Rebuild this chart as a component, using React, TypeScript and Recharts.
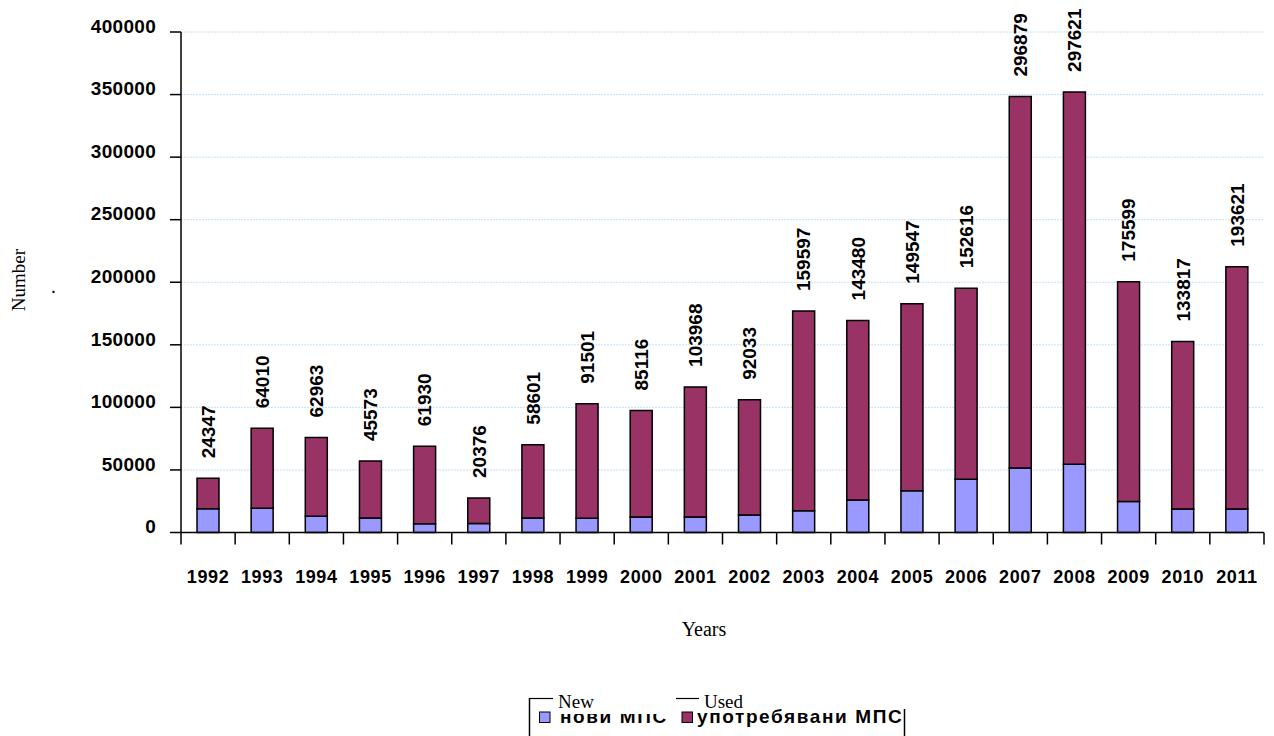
import React from 'react';
import { BarChart, Bar, XAxis, YAxis, CartesianGrid, Legend, LabelList } from 'recharts';

const years = ['1992', '1993', '1994', '1995', '1996', '1997', '1998', '1999', '2000', '2001', '2002', '2003', '2004', '2005', '2006', '2007', '2008', '2009', '2010', '2011'];
const newVehicles = [19000, 19300, 13000, 11500, 7000, 7200, 11600, 11400, 12400, 12400, 14000, 17400, 26000, 33300, 42500, 51500, 54500, 24800, 18800, 18800];
const usedVehicles = [24347, 64010, 62963, 45573, 61930, 20376, 58601, 91501, 85116, 103968, 92033, 159597, 143480, 149547, 152616, 296879, 297621, 175599, 133817, 193621];
const yTicks = [0, 50000, 100000, 150000, 200000, 250000, 300000, 350000, 400000];
const seriesNames = ['нови МПС', 'употребявани МПС'];
const seriesColors = ['#9999FF', '#993366'];
const legendOverlay = ['New', 'Used'];

const data = years.map((year, i) => ({ year, newV: newVehicles[i], usedV: usedVehicles[i] }));

const SANS = 'Liberation Sans, Arial, sans-serif';
const SERIF = 'Liberation Serif, Times New Roman, serif';

const XTick = (props: any) => {
  const { x, y, payload, index } = props;
  const half = payload && typeof payload.offset === 'number' ? payload.offset : 0;
  return (
    <g>
      <line x1={x - half} x2={x - half} y1={y} y2={y + 12} stroke="#000" strokeWidth={1.5} />
      {index === years.length - 1 && (
        <line x1={x + half} x2={x + half} y1={y} y2={y + 12} stroke="#000" strokeWidth={1.5} />
      )}
      <text x={x} y={y + 38} dy="0.71em" textAnchor="middle" fontFamily={SANS} fontWeight="bold" fontSize={18} letterSpacing={0.6} fill="#000">
        {payload.value}
      </text>
    </g>
  );
};

const YTick = (props: any) => {
  const { x, y, payload } = props;
  return (
    <text x={x} y={y - 6} dy="0.355em" textAnchor="end" fontFamily={SANS} fontWeight="bold" fontSize={19} letterSpacing={0.3} fill="#000">
      {payload.value}
    </text>
  );
};

const ValueLabel = (props: any) => {
  const { x, y, width, value } = props;
  const cx = x + width / 2;
  const ty = y - 20;
  return (
    <text x={cx} y={ty} dy="0.36em" transform={`rotate(-90 ${cx} ${ty})`} textAnchor="start" fontFamily={SANS} fontWeight="bold" fontSize={19} fill="#000">
      {value}
    </text>
  );
};

const LegendContent = (props: any) => {
  const payload = props.payload || [];
  const items = payload.length ? payload : seriesNames.map((n, i) => ({ value: n, color: seriesColors[i] }));
  return (
    <svg width={1274} height={736} style={{ position: 'absolute', left: 0, top: 0, overflow: 'visible' }}>
      <line x1={529.5} x2={529.5} y1={698} y2={740} stroke="#000" strokeWidth={1.5} />
      <line x1={529.5} x2={553} y1={698.5} y2={698.5} stroke="#000" strokeWidth={1.2} />
      <line x1={904.5} x2={904.5} y1={709} y2={740} stroke="#000" strokeWidth={1.5} />
      <rect x={539.5} y={712} width={10.5} height={10.5} fill={items[0].color} stroke="#000" strokeWidth={1} />
      <text x={560} y={722.5} fontFamily={SANS} fontWeight="bold" fontSize={19} letterSpacing={1.6} fill="#000">{items[0].value}</text>
      <rect x={553} y={688} width={119} height={26} fill="#fff" />
      <text x={558} y={708} fontFamily={SERIF} fontSize={19} fill="#000">{legendOverlay[0]}</text>
      <line x1={676} x2={699} y1={698.5} y2={698.5} stroke="#000" strokeWidth={1.2} />
      <text x={704} y={708} fontFamily={SERIF} fontSize={19} fill="#000">{legendOverlay[1]}</text>
      <rect x={682} y={712} width={10.5} height={10.5} fill={items[1].color} stroke="#000" strokeWidth={1} />
      <text x={697} y={722.5} fontFamily={SANS} fontWeight="bold" fontSize={19} letterSpacing={1.6} fill="#000">{items[1].value}</text>
    </svg>
  );
};

export default function App() {
  return (
    <div style={{ position: 'absolute', left: 0, top: 0, width: 1274, height: 736, background: '#fff', overflow: 'hidden' }}>
      <BarChart
        width={1274}
        height={736}
        data={data}
        margin={{ top: 32, right: 10, left: 0, bottom: 143.5 }}
        barSize={22}
      >
        <CartesianGrid vertical={false} stroke="#C5E0F5" strokeDasharray="2 1" />
        <XAxis
          dataKey="year"
          height={60}
          tickLine={false}
          tickSize={0}
          tickMargin={0}
          axisLine={{ stroke: '#000', strokeWidth: 1.5 }}
          tick={<XTick />}
          interval={0}
        />
        <YAxis
          width={181}
          domain={[0, 400000]}
          ticks={yTicks}
          interval={0}
          tickSize={11}
          tickMargin={14}
          axisLine={{ stroke: '#000', strokeWidth: 1.5 }}
          tickLine={{ stroke: '#000', strokeWidth: 1.5 }}
          tick={<YTick />}
        />
        <Legend
          layout="horizontal"
          verticalAlign="middle"
          align="center"
          content={<LegendContent />}
          wrapperStyle={{ left: 0, top: 0, width: 1274, height: 736, pointerEvents: 'none' }}
        />
        <Bar dataKey="newV" name={seriesNames[0]} stackId="a" fill={seriesColors[0]} stroke="#000" strokeWidth={1.5} isAnimationActive={false} />
        <Bar dataKey="usedV" name={seriesNames[1]} stackId="a" fill={seriesColors[1]} stroke="#000" strokeWidth={1.5} isAnimationActive={false}>
          <LabelList dataKey="usedV" content={<ValueLabel />} />
        </Bar>
      </BarChart>
      <svg width={1274} height={736} style={{ position: 'absolute', left: 0, top: 0, pointerEvents: 'none' }}>
        <text x={25} y={280} transform="rotate(-90 25 280)" textAnchor="middle" fontFamily={SERIF} fontSize={19} fill="#000">Number</text>
        <text x={51.5} y={293} fontFamily={SANS} fontWeight="bold" fontSize={14} fill="#000">.</text>
        <text x={704} y={636} textAnchor="middle" fontFamily={SERIF} fontSize={20} fill="#000">Years</text>
      </svg>
    </div>
  );
}
